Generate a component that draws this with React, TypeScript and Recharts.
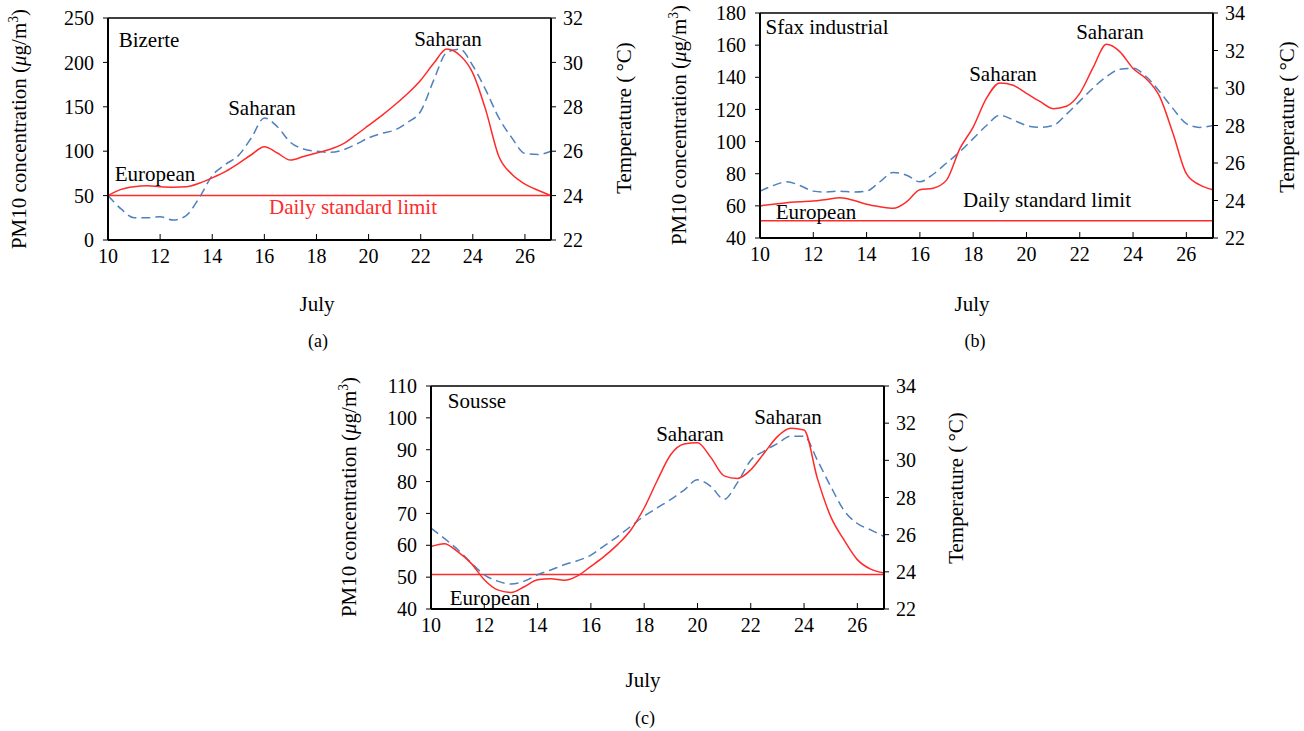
import React from "react";
import { LineChart, Line, XAxis, YAxis, ReferenceLine } from "recharts";

// days of July, half-day steps
const days = [
  10, 10.5, 11, 11.5, 12, 12.5, 13, 13.5, 14, 14.5, 15, 15.5, 16, 16.5, 17, 17.5,
  18, 18.5, 19, 19.5, 20, 20.5, 21, 21.5, 22, 22.5, 23, 23.5, 24, 24.5, 25, 25.5,
  26, 26.5, 27,
];
const dayTicks = [10, 12, 14, 16, 18, 20, 22, 24, 26];

// (a) Bizerte
const bizertePm = [
  50, 57, 60, 61, 60, 59.5, 60, 64, 70, 77, 86, 96, 105, 98, 90, 94, 98, 102,
  108, 118, 129, 140, 152, 165, 180, 199, 215, 208, 188, 146, 94, 74, 63, 56, 50,
];
const bizerteTemp = [
  24.0, 23.4, 23.0, 23.0, 23.05, 22.9, 23.1, 23.9, 24.9, 25.4, 25.8, 26.6, 27.5,
  27.1, 26.4, 26.1, 26.0, 25.95, 26.05, 26.3, 26.6, 26.8, 26.95, 27.3, 27.8, 29.2,
  30.45, 30.6, 29.85, 28.75, 27.5, 26.6, 25.9, 25.85, 26.0,
];

// (b) Sfax industrial
const sfaxPm = [
  60, 61, 62, 62.5, 63, 64, 65, 63.5, 61, 59.5, 58.5, 62.5, 70, 71, 76, 95.6, 109,
  127, 136.5, 135, 130, 125, 120.5, 122, 130, 146, 160.5, 156, 145.5, 139, 128,
  105, 80, 73, 70,
];
const sfaxTemp = [
  24.5, 24.8, 25.0, 24.8, 24.5, 24.45, 24.5, 24.45, 24.5, 25.0, 25.5, 25.35, 25.0,
  25.4, 26.0, 26.6, 27.3, 28.0, 28.55, 28.3, 28.0, 27.9, 28.0, 28.6, 29.3, 30.0,
  30.6, 31.0, 31.05, 30.6, 29.8, 28.9, 28.1, 27.9, 28.0,
];

// (c) Sousse
const soussePm = [
  59.6, 60.5, 58, 54.4, 49.2, 46, 45.2, 47, 49.2, 49.5, 49, 50.4, 53.4, 56.5, 60.2,
  64.8, 71.7, 80.5, 88.5, 91.8, 92.2, 87.6, 81.8, 81, 83.7, 88.9, 94.1, 96.7, 96.2,
  81, 69, 61.7, 55.5, 52.5, 51.3,
];
const sousseTemp = [
  26.35, 25.8, 25.2, 24.5, 23.84, 23.5, 23.34, 23.5, 23.84, 24.1, 24.38, 24.6,
  24.9, 25.4, 25.9, 26.45, 27.0, 27.45, 27.9, 28.4, 28.95, 28.6, 27.9, 28.8, 30.0,
  30.5, 30.9, 31.3, 31.3, 30.0, 28.6, 27.3, 26.6, 26.26, 25.9,
];

const FONT = '"Liberation Serif", "DejaVu Serif", serif';
const RED = "#ff2a2a";
const BLUE = "#4f81bd";
const TICK_SIZE = 20;

const XTick = (props: any) => {
  const { x, y, payload } = props;
  return (
    <g>
      <line x1={x} y1={y} x2={x} y2={y - 6} stroke="#000" strokeWidth={1} />
      <text x={x} y={y + 23} textAnchor="middle" fontSize={TICK_SIZE} fill="#000" fontFamily={FONT}>
        {payload.value}
      </text>
    </g>
  );
};

type Note = { text: string; x: number; y: number; color?: string };

type PanelProps = {
  left: number;
  top: number;
  width: number;
  height: number;
  marginTop: number;
  leftW: number;
  rightW: number;
  pm: number[];
  temp: number[];
  pmDomain: [number, number];
  pmTicks: number[];
  tempDomain: [number, number];
  tempTicks: number[];
  limit: number;
};

function Panel(p: PanelProps) {
  const data = days.map((d, i) => ({ day: d, pm: p.pm[i], temp: p.temp[i] }));
  const tickStyle = { fill: "#000", fontSize: TICK_SIZE, fontFamily: FONT };
  return (
    <div style={{ position: "absolute", left: p.left, top: p.top }}>
      <LineChart
        width={p.width}
        height={p.height}
        data={data}
        margin={{ top: p.marginTop, right: 0, left: 0, bottom: 0 }}
      >
        <XAxis
          dataKey="day"
          type="number"
          domain={[10, 27]}
          ticks={dayTicks}
          interval={0}
          height={30}
          tickSize={0}
          tickMargin={0}
          tickLine={false}
          tick={<XTick />}
          axisLine={{ stroke: "#000", strokeWidth: 2 }}
        />
        <YAxis
          yAxisId="pm"
          domain={p.pmDomain}
          ticks={p.pmTicks}
          interval={0}
          width={p.leftW}
          tickSize={5}
          tickMargin={9}
          tick={tickStyle}
          tickLine={{ stroke: "#000" }}
          axisLine={{ stroke: "#000", strokeWidth: 2 }}
        />
        <YAxis
          yAxisId="temp"
          orientation="right"
          domain={p.tempDomain}
          ticks={p.tempTicks}
          interval={0}
          width={p.rightW}
          tickSize={5}
          tickMargin={7}
          tick={{ ...tickStyle, textAnchor: "start" }}
          tickLine={{ stroke: "#000" }}
          axisLine={{ stroke: "#000", strokeWidth: 2 }}
        />
        <ReferenceLine yAxisId="pm" y={p.pmDomain[1]} stroke="#000" strokeWidth={1.5} />
        <ReferenceLine yAxisId="pm" y={p.limit} stroke={RED} strokeWidth={1.5} />
        <Line
          yAxisId="temp"
          dataKey="temp"
          type="monotone"
          stroke={BLUE}
          strokeWidth={1.5}
          strokeDasharray="9 5"
          dot={false}
          isAnimationActive={false}
        />
        <Line
          yAxisId="pm"
          dataKey="pm"
          type="monotone"
          stroke={RED}
          strokeWidth={1.5}
          dot={false}
          isAnimationActive={false}
        />
      </LineChart>
    </div>
  );
}

const textBase: React.CSSProperties = {
  position: "absolute",
  whiteSpace: "nowrap",
  fontFamily: FONT,
  color: "#000",
  lineHeight: 1,
};

const Center = ({ x, y, children, size = 21, color = "#000", rotate = false }: any) => (
  <div
    style={{
      ...textBase,
      left: x,
      top: y,
      fontSize: size,
      color,
      transform: `translate(-50%, -50%)${rotate ? " rotate(-90deg)" : ""}`,
    }}
  >
    {children}
  </div>
);

const PmLabel = () => (
  <span>
    PM10 concentration (<i>μ</i>g/m<sup style={{ fontSize: "0.65em", verticalAlign: "0.55em", lineHeight: 0 }}>3</sup>)
  </span>
);

const notesA: Note[] = [
  { text: "Bizerte", x: 149, y: 40 },
  { text: "European", x: 155, y: 174 },
  { text: "Saharan", x: 262, y: 108 },
  { text: "Saharan", x: 448, y: 39 },
  { text: "Daily standard limit", x: 353, y: 207, color: RED },
];
const notesB: Note[] = [
  { text: "Sfax industrial", x: 827, y: 27 },
  { text: "European", x: 816, y: 212 },
  { text: "Saharan", x: 1003, y: 74 },
  { text: "Saharan", x: 1110, y: 32 },
  { text: "Daily standard limit", x: 1047, y: 200 },
];
const notesC: Note[] = [
  { text: "Sousse", x: 477, y: 401 },
  { text: "European", x: 490, y: 598 },
  { text: "Saharan", x: 690, y: 434 },
  { text: "Saharan", x: 788, y: 417 },
];

export default function App() {
  const notes = [...notesA, ...notesB, ...notesC];
  return (
    <div
      style={{
        position: "absolute",
        left: 0,
        top: 0,
        width: 1304,
        height: 731,
        background: "#fff",
        fontFamily: FONT,
      }}
    >
      <Panel
        left={0}
        top={0}
        width={640}
        height={270}
        marginTop={18}
        leftW={108}
        rightW={89}
        pm={bizertePm}
        temp={bizerteTemp}
        pmDomain={[0, 250]}
        pmTicks={[0, 50, 100, 150, 200, 250]}
        tempDomain={[22, 32]}
        tempTicks={[22, 24, 26, 28, 30, 32]}
        limit={50}
      />
      <Panel
        left={660}
        top={0}
        width={644}
        height={268}
        marginTop={13}
        leftW={100}
        rightW={91}
        pm={sfaxPm}
        temp={sfaxTemp}
        pmDomain={[40, 180]}
        pmTicks={[40, 60, 80, 100, 120, 140, 160, 180]}
        tempDomain={[22, 34]}
        tempTicks={[22, 24, 26, 28, 30, 32, 34]}
        limit={50.7}
      />
      <Panel
        left={330}
        top={370}
        width={620}
        height={269}
        marginTop={16}
        leftW={101}
        rightW={66}
        pm={soussePm}
        temp={sousseTemp}
        pmDomain={[40, 110]}
        pmTicks={[40, 50, 60, 70, 80, 90, 100, 110]}
        tempDomain={[22, 34]}
        tempTicks={[22, 24, 26, 28, 30, 32, 34]}
        limit={50.8}
      />

      {notes.map((n, i) => (
        <Center key={i} x={n.x} y={n.y} color={n.color ?? "#000"}>
          {n.text}
        </Center>
      ))}

      {/* axis titles */}
      <Center x={19} y={129} size={21} rotate>
        <PmLabel />
      </Center>
      <Center x={679} y={125} size={21} rotate>
        <PmLabel />
      </Center>
      <Center x={349} y={497} size={21} rotate>
        <PmLabel />
      </Center>
      <Center x={624} y={118} size={21} rotate>
        Temperature (&thinsp;°C)
      </Center>
      <Center x={1287} y={117} size={21} rotate>
        Temperature (&thinsp;°C)
      </Center>
      <Center x={956} y={488} size={21} rotate>
        Temperature (&thinsp;°C)
      </Center>

      <Center x={317} y={304}>July</Center>
      <Center x={972} y={304}>July</Center>
      <Center x={643} y={680}>July</Center>

      <Center x={318} y={341} size={18}>(a)</Center>
      <Center x={975} y={341} size={18}>(b)</Center>
      <Center x={645} y={718} size={18}>(c)</Center>
    </div>
  );
}
